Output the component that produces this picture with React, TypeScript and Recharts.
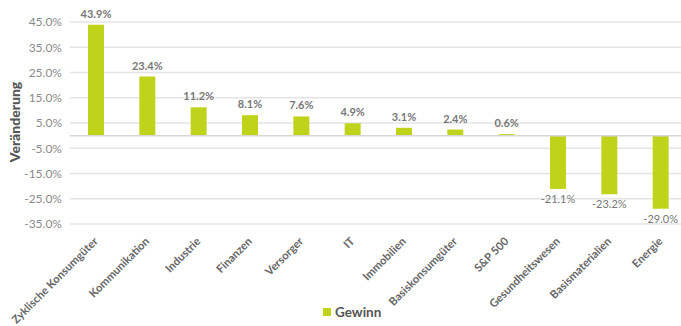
import React from 'react';
import { BarChart, Bar, XAxis, YAxis, CartesianGrid, Legend, LabelList, ReferenceLine, Label } from 'recharts';

const sectors = [
  'Zyklische Konsumgüter',
  'Kommunikation',
  'Industrie',
  'Finanzen',
  'Versorger',
  'IT',
  'Immobilien',
  'Basiskonsumgüter',
  'S&P 500',
  'Gesundheitswesen',
  'Basismaterialien',
  'Energie',
];
const gewinn = [43.9, 23.4, 11.2, 8.1, 7.6, 4.9, 3.1, 2.4, 0.6, -21.1, -23.2, -29.0];
const yTicks = [-35, -25, -15, -5, 5, 15, 25, 35, 45];

const data = sectors.map((name, i) => ({ name, gewinn: gewinn[i] }));

const FONT = 'Lato, "Open Sans", sans-serif';
const GREEN = '#c0d31b';

const XTick = (props: any) => {
  const { x, y, payload } = props;
  return (
    <g transform={`translate(${x + 3},${y + 10})`}>
      <text
        textAnchor="end"
        transform="rotate(-45)"
        fontFamily={FONT}
        fontSize={11.2}
        fontWeight={700}
        fill="#666"
      >
        {payload.value}
      </text>
    </g>
  );
};

const ValueLabel = (props: any) => {
  const { x, y, width, height, value } = props;
  const neg = value < 0;
  const cx = x + width / 2;
  const top = Math.min(y, y + height);
  const bottom = Math.max(y, y + height);
  const ty = neg ? bottom + 14 : top - 7;
  return (
    <text
      x={cx}
      y={ty}
      textAnchor="middle"
      fontFamily={FONT}
      fontSize={11}
      fontWeight={neg ? 400 : 700}
      fill="#777"
    >
      {value.toFixed(1)}%
    </text>
  );
};

// y-axis title, drawn at a fixed spot next to the ticks
const AxisTitle = () => (
  <text
    x={0}
    y={0}
    transform="translate(20,122) rotate(-90)"
    textAnchor="middle"
    fontFamily={FONT}
    fontSize={14}
    fontWeight={900}
    fill="#555"
  >
    Veränderung
  </text>
);

const LegendContent = () => (
  <div style={{ display: 'flex', alignItems: 'center', marginLeft: 323, fontFamily: FONT }}>
    <span style={{ width: 8, height: 8, background: GREEN, display: 'inline-block', marginRight: 4 }} />
    <span style={{ fontSize: 13.5, fontWeight: 700, color: '#555' }}>Gewinn</span>
  </div>
);

export default function App() {
  return (
    <div style={{ position: 'absolute', left: 0, top: 0, width: 681, height: 326, overflow: 'hidden' }}>
      <BarChart
        width={690}
        height={326}
        data={data}
        margin={{ top: 22, right: 4, left: 0, bottom: 6 }}
      >
        <CartesianGrid vertical={false} stroke="#e4e4e4" strokeWidth={1.5} />
        <XAxis
          dataKey="name"
          interval={0}
          axisLine={false}
          tickLine={false}
          height={80}
          tick={<XTick />}
        />
        <YAxis
          width={70}
          domain={[-35, 45]}
          ticks={yTicks}
          axisLine={false}
          tickLine={false}
          tickMargin={2}
          tickFormatter={(v: number) => `${v.toFixed(1)}%`}
          tick={{ fontFamily: FONT, fontSize: 12, fill: '#8a8a8a' }}
        >
          <Label content={<AxisTitle />} />
        </YAxis>
        <ReferenceLine y={0} stroke="#d6d6d6" strokeWidth={1.5} />
        <Legend verticalAlign="bottom" height={16} content={<LegendContent />} />
        <Bar dataKey="gewinn" name="Gewinn" fill={GREEN} barSize={16} isAnimationActive={false}>
          <LabelList dataKey="gewinn" content={<ValueLabel />} />
        </Bar>
      </BarChart>
    </div>
  );
}
